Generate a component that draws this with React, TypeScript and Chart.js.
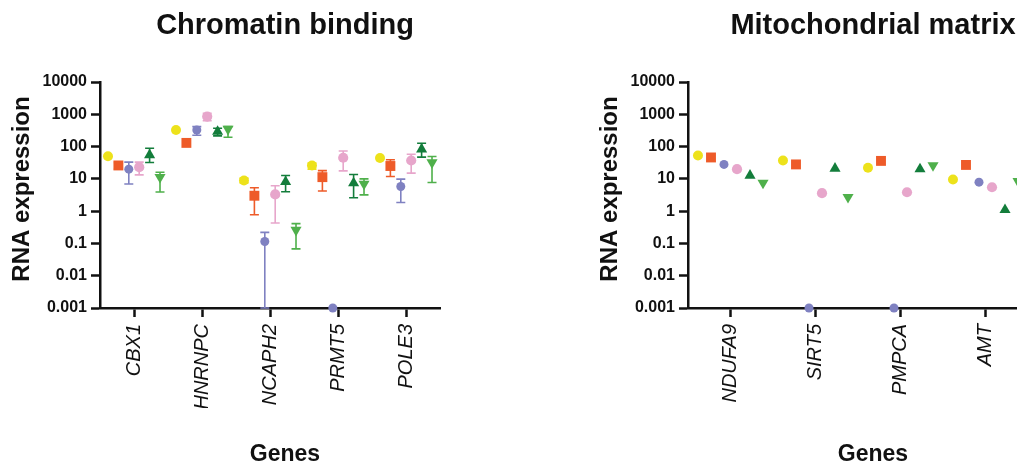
import React, { useEffect, useRef } from "react";
import { Chart, registerables } from "chart.js";

Chart.register(...registerables);

const FONT = "'Liberation Sans', Arial, Helvetica, sans-serif";

// ---- axis ticks ----
const yTickValues = [0.001, 0.01, 0.1, 1, 10, 100, 1000, 10000];
const yTickLabels = ["0.001", "0.01", "0.1", "1", "10", "100", "1000", "10000"];

// ---- Chromatin binding ----
const chromatinGenes = ["CBX1", "HNRNPC", "NCAPH2", "PRMT5", "POLE3"];
const chromatinS1 = [50, 325, 8.9, 26, 44];
const chromatinS2 = [26, 130, 3.0, 11.3, 25];
const chromatinS3 = [20, 325, 0.115, 0.001, 5.8];
const chromatinS4 = [23, 850, 3.3, 45, 37];
const chromatinS5 = [55, 290, 8.1, 7.4, 83];
const chromatinS6 = [11.3, 350, 0.26, 7.0, 32];

const chromatinS1Low = [null, null, 7.5, 20, null];
const chromatinS1High = [null, null, 10.5, 31, null];
const chromatinS2Low = [20, null, 0.77, 4.2, 11.8];
const chromatinS2High = [32, null, 5.3, 18, 39];
const chromatinS3Low = [6.9, 225, 0.001, null, 1.85];
const chromatinS3High = [33, 415, 0.22, null, 9.8];
const chromatinS4Low = [13.3, 630, 0.43, 17.7, 15];
const chromatinS4High = [33, 1070, 6.1, 73, 58];
const chromatinS5Low = [32, 215, 4.0, 2.6, 47];
const chromatinS5High = [89, 370, 12.7, 13.6, 127];
const chromatinS6Low = [3.9, 195, 0.068, 3.2, 7.7];
const chromatinS6High = [16, 415, 0.41, 10, 49];

// ---- Mitochondrial matrix ----
const mitoGenes = ["NDUFA9", "SIRT5", "PMPCA", "AMT"];
const mitoS1 = [53, 37, 22, 9.5];
const mitoS2 = [46, 28, 36, 27];
const mitoS3 = [28, 0.001, 0.001, 7.9];
const mitoS4 = [20, 3.6, 3.85, 5.5];
const mitoS5 = [12.7, 21, 20, 1.1];
const mitoS6 = [7.5, 2.7, 26, 8.4];

const seriesStyles = [
  { color: "#EDE21B", pointStyle: "circle", radius: 5, rotation: 0 },
  { color: "#EE5B29", pointStyle: "rect", radius: 7, rotation: 0 },
  { color: "#7F81C1", pointStyle: "circle", radius: 4.5, rotation: 0 },
  { color: "#E7A6CB", pointStyle: "circle", radius: 5.1, rotation: 0 },
  { color: "#137D3B", pointStyle: "triangle", radius: 6.4, rotation: 0 },
  { color: "#4FB04B", pointStyle: "triangle", radius: 6.4, rotation: 180 },
];

const SPREAD = 0.153;

type Arr = (number | null)[];

function Panel(props: {
  left: number;
  title: string;
  genes: string[];
  values: number[][];
  lows: Arr[];
  highs: Arr[];
}) {
  const ref = useRef<HTMLCanvasElement>(null);
  useEffect(() => {
    const canvas = ref.current!;
    const { title, genes, values, lows, highs } = props;
    const datasets = values.map((vals, s) => ({
      label: "Series " + (s + 1),
      data: vals.map((v, i) => ({ x: i + (s - 2.5) * SPREAD, y: v })),
      pointStyle: seriesStyles[s].pointStyle,
      pointRadius: seriesStyles[s].radius,
      pointHoverRadius: seriesStyles[s].radius,
      pointRotation: seriesStyles[s].rotation,
      backgroundColor: seriesStyles[s].color,
      borderColor: seriesStyles[s].color,
      borderWidth: 0,
      pointBorderWidth: 0,
      showLine: false,
      clip: false as any,
    }));

    const errorBars = {
      id: "errorBars",
      beforeDatasetsDraw(chart: any) {
        const ctx = chart.ctx;
        const ys = chart.scales.y;
        chart.data.datasets.forEach((_ds: any, s: number) => {
          const meta = chart.getDatasetMeta(s);
          meta.data.forEach((pt: any, i: number) => {
            const lo = lows[s] ? lows[s][i] : null;
            const hi = highs[s] ? highs[s][i] : null;
            if (lo == null || hi == null) return;
            const x = pt.x;
            const y1 = ys.getPixelForValue(lo);
            const y2 = ys.getPixelForValue(hi);
            ctx.save();
            ctx.strokeStyle = seriesStyles[s].color;
            ctx.lineWidth = 1.6;
            ctx.beginPath();
            ctx.moveTo(x, y1);
            ctx.lineTo(x, y2);
            ctx.moveTo(x - 4.5, y1);
            ctx.lineTo(x + 4.5, y1);
            ctx.moveTo(x - 4.5, y2);
            ctx.lineTo(x + 4.5, y2);
            ctx.stroke();
            ctx.restore();
          });
        });
      },
    };

    const panelTexts = {
      id: "panelTexts",
      afterDraw(chart: any) {
        const ctx = chart.ctx;
        ctx.save();
        ctx.fillStyle = "#111";
        ctx.textAlign = "center";
        ctx.textBaseline = "alphabetic";
        ctx.font = `bold 29px ${FONT}`;
        ctx.fillText(title, chart.width / 2, 34);
        ctx.font = `bold 23px ${FONT}`;
        ctx.fillText("Genes", chart.width / 2, 461);
        ctx.translate(22, 189);
        ctx.rotate(-Math.PI / 2);
        ctx.textBaseline = "middle";
        ctx.font = `bold 24px ${FONT}`;
        ctx.fillText("RNA expression", 0, 0);
        ctx.restore();
      },
    };

    const chart = new Chart(canvas, {
      type: "scatter",
      data: { datasets: datasets as any },
      options: {
        responsive: false,
        animation: false,
        devicePixelRatio: 1,
        layout: { padding: { top: 82, right: 130, bottom: 59, left: 0 } },
        plugins: {
          legend: { display: false },
          tooltip: { enabled: false },
          title: { display: false },
        },
        scales: {
          x: {
            type: "linear",
            min: -0.5,
            max: genes.length - 0.5,
            afterBuildTicks: (s: any) => {
              s.ticks = genes.map((_g, i) => ({ value: i }));
            },
            afterFit: (s: any) => {
              s.height = 100;
            },
            ticks: {
              autoSkip: false,
              minRotation: 90,
              maxRotation: 90,
              padding: 7,
              color: "#111",
              font: { family: FONT, size: 20, style: "italic" },
              callback: (v: any) => genes[Math.round(Number(v))] ?? "",
            },
            grid: {
              drawOnChartArea: false,
              drawTicks: true,
              tickLength: 9,
              tickWidth: 2.5,
              tickColor: "#111",
            },
            border: { display: true, color: "#111", width: 2.5 },
          },
          y: {
            type: "logarithmic",
            min: 0.001,
            max: 10000,
            afterBuildTicks: (s: any) => {
              s.ticks = yTickValues.map((v) => ({ value: v }));
            },
            afterFit: (s: any) => {
              s.width = 100;
            },
            ticks: {
              autoSkip: false,
              padding: 4,
              color: "#111",
              font: { family: FONT, size: 16, weight: "bold" },
              callback: (v: any) => {
                const k = yTickValues.findIndex((t) => Math.abs(t - Number(v)) < t * 1e-6);
                return k >= 0 ? yTickLabels[k] : "";
              },
            },
            grid: {
              drawOnChartArea: false,
              drawTicks: true,
              tickLength: 9,
              tickWidth: 2.5,
              tickColor: "#111",
            },
            border: { display: true, color: "#111", width: 2.5 },
            title: { display: false },
          },
        },
      } as any,
      plugins: [errorBars, panelTexts],
    });
    return () => chart.destroy();
  }, []);
  return (
    <canvas
      ref={ref}
      width={570}
      height={467}
      style={{ position: "absolute", left: props.left, top: 0, width: 570, height: 467 }}
    />
  );
}

export default function App() {
  return (
    <div
      style={{
        position: "fixed",
        left: 0,
        top: 0,
        width: 1017,
        height: 467,
        overflow: "hidden",
        background: "#fff",
      }}
    >
      <Panel
        left={0}
        title="Chromatin binding"
        genes={chromatinGenes}
        values={[chromatinS1, chromatinS2, chromatinS3, chromatinS4, chromatinS5, chromatinS6]}
        lows={[chromatinS1Low, chromatinS2Low, chromatinS3Low, chromatinS4Low, chromatinS5Low, chromatinS6Low]}
        highs={[chromatinS1High, chromatinS2High, chromatinS3High, chromatinS4High, chromatinS5High, chromatinS6High]}
      />
      <Panel
        left={588}
        title="Mitochondrial matrix"
        genes={mitoGenes}
        values={[mitoS1, mitoS2, mitoS3, mitoS4, mitoS5, mitoS6]}
        lows={[]}
        highs={[]}
      />
    </div>
  );
}
